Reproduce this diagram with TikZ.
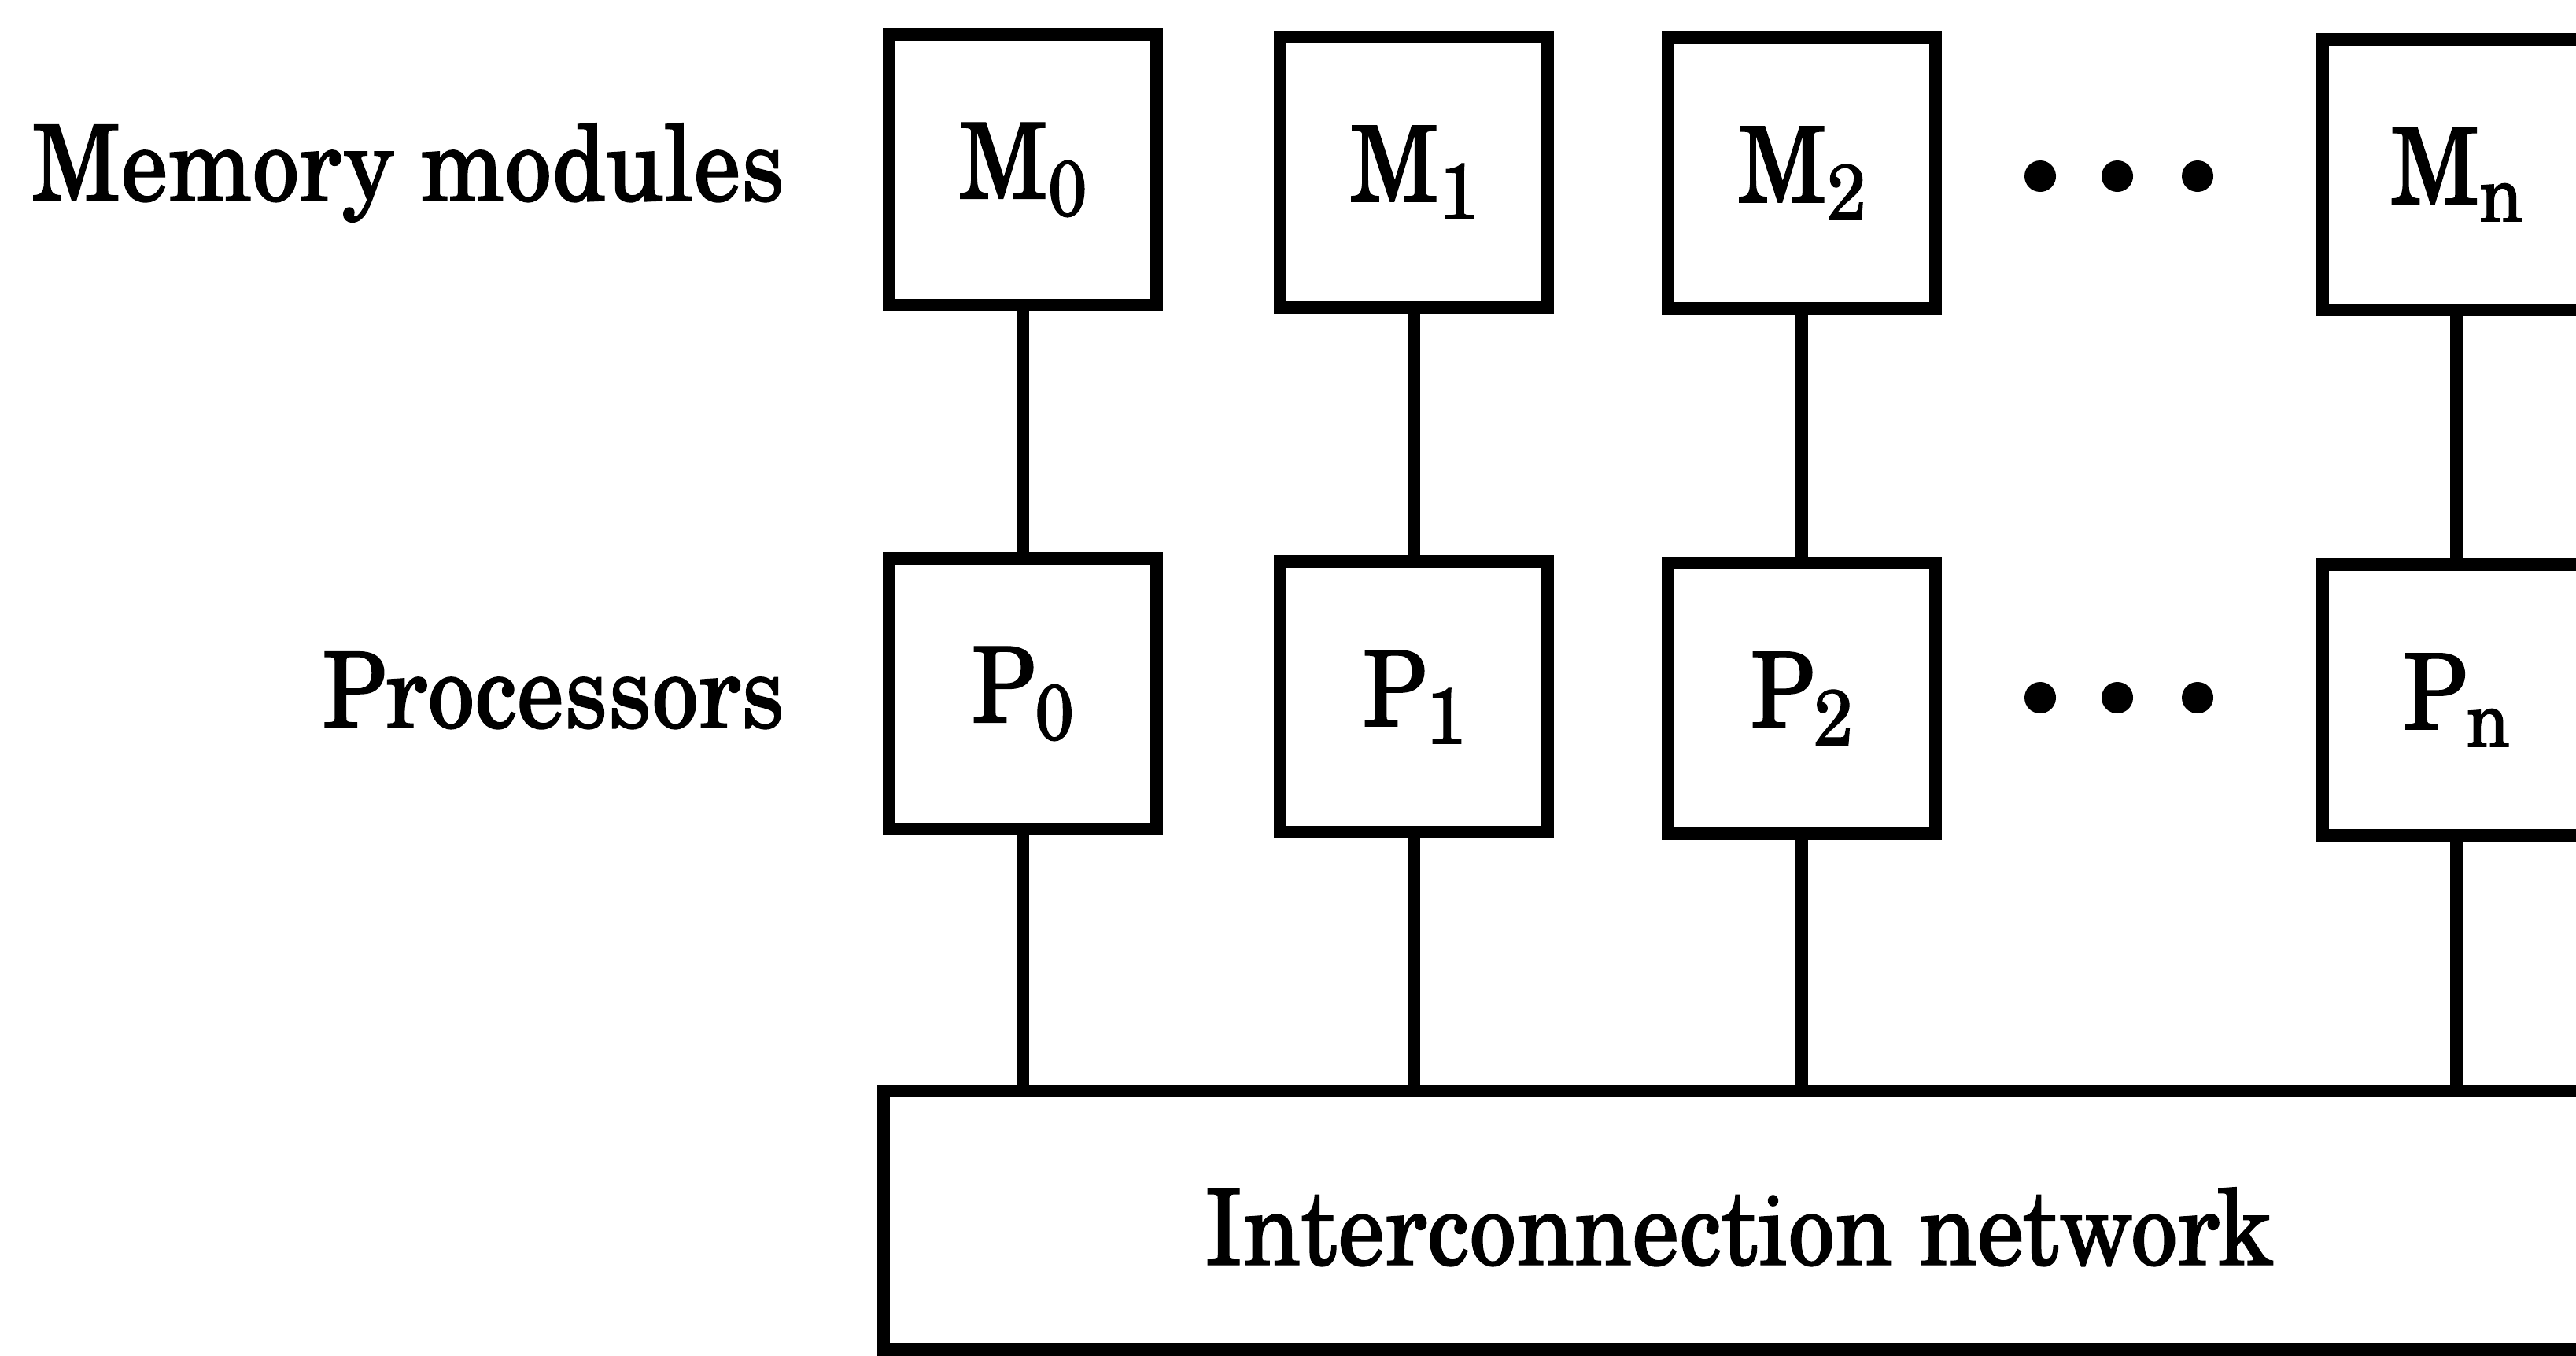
\documentclass[tikz,border=0pt]{standalone}
\usepackage{fontspec}
\setmainfont{TeX Gyre Schola}[FakeStretch=0.9, FakeBold=1]
\newcommand{\sbs}[1]{\raisebox{-6.3pt}{\fontsize{28.5}{30}\selectfont #1}}
\begin{document}
\begin{tikzpicture}[x=1cm,y=1cm,
  box/.style={draw, line width=4.3pt, minimum width=3.40cm, minimum height=3.44cm, inner sep=0pt, font=\fontsize{38}{44}\selectfont},
  link/.style={line width=4.3pt},
  lbl/.style={font=\fontsize{38}{44}\selectfont, inner sep=0pt},
  dotn/.style={circle, fill, inner sep=0pt, minimum size=0.40cm}]
\useasboundingbox (0,0) rectangle (32.74,-17.23);
\clip (0,0) rectangle (32.74,-17.23);
% memory modules
\node[box] (m0) at (13.00,-2.16) {M\sbs{0}};
\node[box] (m1) at (17.97,-2.19) {M\sbs{1}};
\node[box] (m2) at (22.90,-2.20) {M\sbs{2}};
\node[box] (mn) at (31.22,-2.22) {M\sbs{n}};
% processors
\node[box] (p0) at (13.00,-8.82) {P\sbs{0}};
\node[box] (p1) at (17.97,-8.86) {P\sbs{1}};
\node[box] (p2) at (22.90,-8.88) {P\sbs{2}};
\node[box] (pn) at (31.22,-8.90) {P\sbs{n}};
% network
\node[box, minimum width=21.74cm, minimum height=3.29cm] (net) at (22.10,-15.515) {};
\node[lbl, anchor=base] (netlbl) at (22.10,-16.08) {Interconnection network};
% row labels
\node[lbl, anchor=base east] (memlbl) at (9.98,-2.55) {Memory modules};
\node[lbl, anchor=base east] (proclbl) at (9.98,-9.25) {Processors};
% dots
\node[dotn] (d1) at (25.93,-2.24) {};
\node[dotn] (d2) at (26.91,-2.24) {};
\node[dotn] (d3) at (27.93,-2.24) {};
\node[dotn] (d4) at (25.93,-8.87) {};
\node[dotn] (d5) at (26.91,-8.87) {};
\node[dotn] (d6) at (27.93,-8.87) {};
% links
\foreach \a/\b in {m0/p0,m1/p1,m2/p2,mn/pn}
  \draw[link] (\a.south) -- (\b.north);
\foreach \a in {p0,p1,p2,pn}
  \draw[link] (\a.south) -- (\a.south |- net.north);
\end{tikzpicture}
\end{document}
